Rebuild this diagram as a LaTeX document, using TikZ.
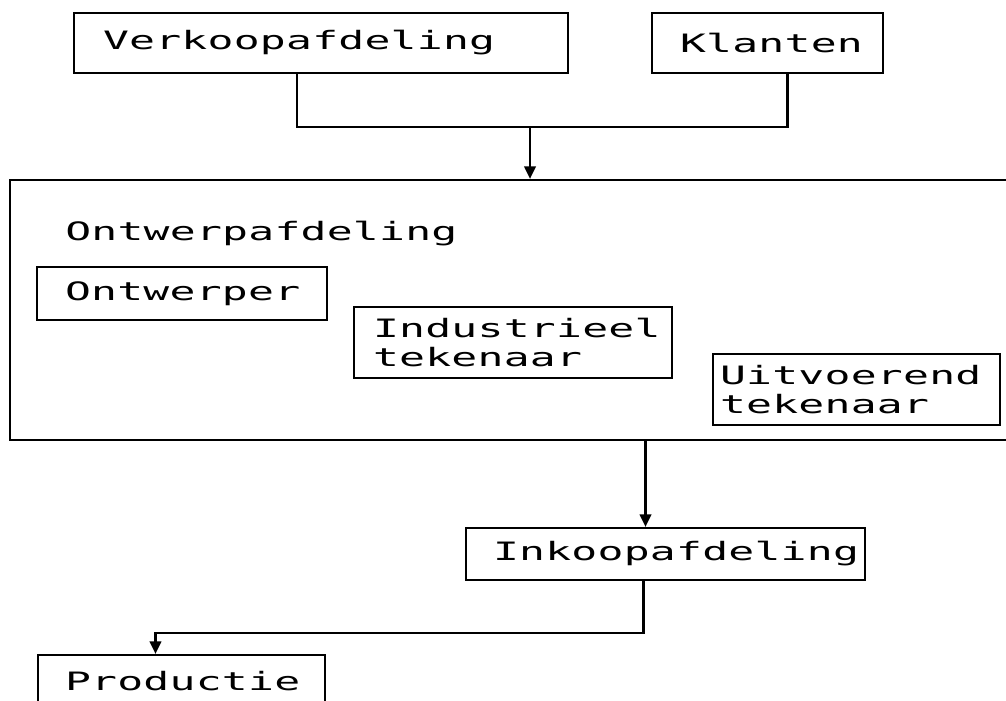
\documentclass[tikz,border=0pt]{standalone}
\usepackage{fontspec}
\newfontfamily\plotfont{DejaVu Sans Mono}[FakeStretch=1.7,LetterSpace=1]
\usetikzlibrary{arrows.meta}
\newlength\pxmaat
\setlength\pxmaat{0.025cm}
\hyphenpenalty=10000

\begin{document}
\begin{tikzpicture}[x=0.025cm,y=-0.025cm,
  plottekst/.style={font=\plotfont\fontsize{18}{21}\selectfont},
  vak/.style n args={3}{draw,line width=1.4pt,plottekst,align=left,
    inner ysep=0pt,inner xsep=#3*0.025cm,text width=\numexpr#1-2*#3\relax\pxmaat,
    minimum height=#2*0.025cm},
  lijn/.style={line width=2pt},
  >={Triangle[width=8pt,length=9pt]}]
\useasboundingbox (0,0) rectangle (1006,700);
\clip (0,0) rectangle (1006,700);
% bovenste afdelingen
\node[vak={494}{60}{29}] (verkoop) at (321,43) {Verkoopafdeling};
\node[vak={231}{60}{28}] (klanten) at (767.5,43) {Klanten};
% ontwerpafdeling met medewerkers
\node[draw,line width=1.4pt,minimum width=1030*0.025cm,minimum height=260*0.025cm] (afd) at (525,310) {};
\node[plottekst,anchor=base west,inner sep=0pt] (titel) at (65,240) {Ontwerpafdeling};
\node[vak={290}{53}{28}] (ontwerper) at (182,293.5) {Ontwerper};
\node[vak={318}{71}{19}] (industrieel) at (513,342.5) {Industrieel\\tekenaar};
\node[vak={287}{71}{7}] (uitvoerend) at (856.5,389.5) {Uitvoerend\\tekenaar};
% onderste afdelingen
\node[vak={399}{52}{27}] (inkoop) at (665.5,554) {Inkoopafdeling};
\node[vak={287}{52}{27}] (productie) at (181.5,681) {Productie};
% verbindingen
\coordinate (samen) at (530,127);
\coordinate (inkin) at ([xshift=-0.5cm]inkoop.north);
\coordinate (prodin) at ([xshift=-0.65cm]productie.north);
\draw[lijn] ([xshift=-0.6cm]verkoop.south) |- (samen) -| ([xshift=0.5cm]klanten.south);
\draw[lijn,->] (samen) -- (samen |- afd.north);
\draw[lijn,->] (inkin |- afd.south) -- (inkin);
\draw[lijn,->] ([xshift=-0.55cm]inkoop.south) -- ++(0,52) -| (prodin);
\end{tikzpicture}
\end{document}
